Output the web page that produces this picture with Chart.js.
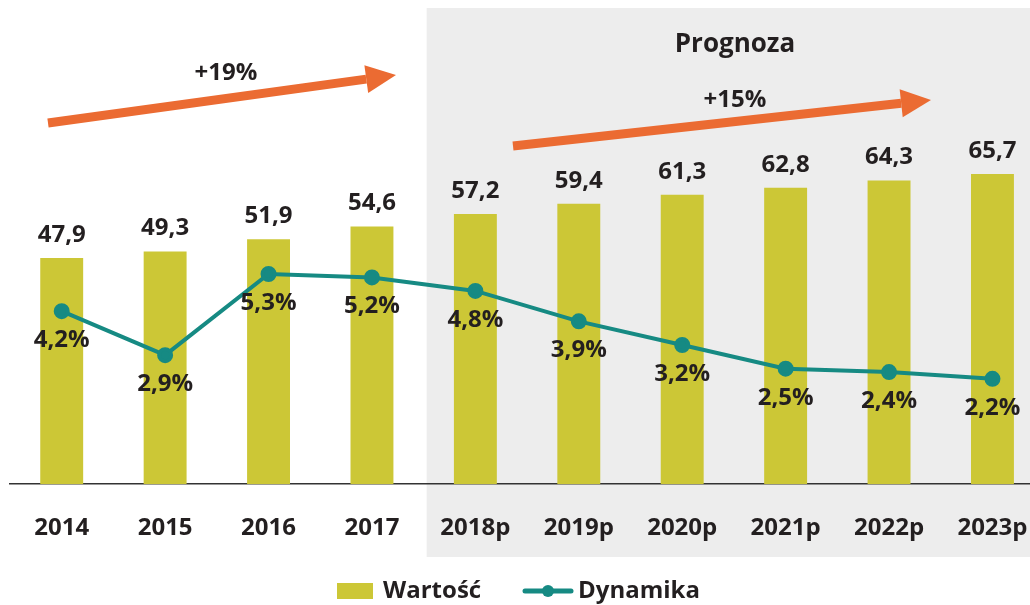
<!DOCTYPE html>
<html lang="pl">
<head>
<meta charset="UTF-8">
<title>Wartość i dynamika</title>
<script src="https://cdn.jsdelivr.net/npm/chart.js"></script>
<style>
  html, body { margin: 0; padding: 0; background: #fff; overflow: hidden; }
  #wrap { width: 1058px; height: 605px; }
</style>
</head>
<body>
<div id="wrap"><canvas id="chart" width="1058" height="605"></canvas></div>
<script>
// dane
const lata = ['2014', '2015', '2016', '2017', '2018p', '2019p', '2020p', '2021p', '2022p', '2023p'];
const wartosc = [47.9, 49.3, 51.9, 54.6, 57.2, 59.4, 61.3, 62.8, 64.3, 65.7];
const dynamika = [4.2, 2.9, 5.3, 5.2, 4.8, 3.9, 3.2, 2.5, 2.4, 2.2];
const prognozaOd = 4; // indeks pierwszego roku prognozy

const kolorSlupka = '#CCC736';
const kolorLinii = '#168A83';
const kolorStrzalki = '#EB6B32';
const kolorTekstu = '#231F20';
const font = '"Open Sans", "Noto Sans", sans-serif';

const fmt = v => v.toFixed(1).replace('.', ',');

function strzalka(ctx, x1, y1, x2, y2) {
  const ang = Math.atan2(y2 - y1, x2 - x1);
  const head = 30, half = 14;
  const bx = x2 - head * Math.cos(ang), by = y2 - head * Math.sin(ang);
  ctx.save();
  ctx.strokeStyle = kolorStrzalki; ctx.fillStyle = kolorStrzalki;
  ctx.lineWidth = 9; ctx.lineCap = 'butt';
  ctx.beginPath(); ctx.moveTo(x1, y1); ctx.lineTo(bx, by); ctx.stroke();
  ctx.beginPath();
  ctx.moveTo(x2, y2);
  ctx.lineTo(bx + half * Math.sin(ang), by - half * Math.cos(ang));
  ctx.lineTo(bx - half * Math.sin(ang), by + half * Math.cos(ang));
  ctx.closePath(); ctx.fill();
  ctx.restore();
}

const dodatki = {
  id: 'dodatki',
  beforeDraw(chart) {
    const { ctx } = chart;
    const x = chart.scales.x;
    const left = (x.getPixelForValue(prognozaOd - 1) + x.getPixelForValue(prognozaOd)) / 2 + 3;
    ctx.save();
    ctx.fillStyle = '#EDEDED';
    ctx.fillRect(left, 8, chart.width - left, 549);
    ctx.restore();
  },
  afterDatasetsDraw(chart) {
    const { ctx } = chart;
    ctx.save();
    ctx.fillStyle = kolorTekstu;
    ctx.textAlign = 'center';
    ctx.textBaseline = 'middle';
    ctx.font = 'bold 24px ' + font;
    // dataset 1 = słupki, dataset 0 = linia
    chart.getDatasetMeta(1).data.forEach((b, i) => {
      ctx.fillText(fmt(wartosc[i]), b.x, b.y - 23);
    });
    chart.getDatasetMeta(0).data.forEach((p, i) => {
      ctx.fillText(fmt(dynamika[i]) + '%', p.x, p.y + 29);
    });

    // strzałki i opisy
    strzalka(ctx, 48, 123, 396, 75);
    strzalka(ctx, 513, 146, 931, 100);
    ctx.fillStyle = kolorTekstu;
    ctx.font = 'bold 24px ' + font;
    ctx.fillText('+19%', 226, 73);
    ctx.fillText('+15%', 735, 100);
    ctx.font = 'bold 26px ' + font;
    ctx.fillText('Prognoza', 735, 45);

    // legenda
    ctx.fillStyle = kolorSlupka;
    ctx.fillRect(337, 583, 36, 16);
    ctx.strokeStyle = kolorLinii; ctx.lineWidth = 5; ctx.lineCap = 'round';
    ctx.beginPath(); ctx.moveTo(525, 591); ctx.lineTo(571, 591); ctx.stroke();
    ctx.fillStyle = kolorLinii;
    ctx.beginPath(); ctx.arc(548, 591, 6, 0, Math.PI * 2); ctx.fill();
    ctx.fillStyle = kolorTekstu;
    ctx.textAlign = 'left';
    ctx.font = 'bold 24px ' + font;
    ctx.fillText('Wartość', 383, 591);
    ctx.fillText('Dynamika', 578, 591);
    ctx.restore();
  }
};

new Chart(document.getElementById('chart'), {
  data: {
    labels: lata,
    datasets: [
      { type: 'line', label: 'Dynamika', data: dynamika, yAxisID: 'y2', order: 0,
        borderColor: kolorLinii, backgroundColor: kolorLinii, borderWidth: 4,
        pointRadius: 6, pointHoverRadius: 6, tension: 0 },
      { type: 'bar', label: 'Wartość', data: wartosc, yAxisID: 'y', order: 1,
        backgroundColor: kolorSlupka, categoryPercentage: 1, barPercentage: 0.415 }
    ]
  },
  options: {
    responsive: false,
    animation: false,
    layout: { padding: { left: 10, right: 0, top: 12, bottom: 32 } },
    plugins: { legend: { display: false }, tooltip: { enabled: false } },
    scales: {
      x: {
        grid: { display: false, drawTicks: false },
        border: { display: true, color: '#333', width: 1.5 },
        ticks: { color: kolorTekstu, padding: 30, font: { family: font, size: 24, weight: 'bold' } }
      },
      y: { display: false, min: 0, max: 100 },
      y2: { display: false, min: -0.917, max: 13.05 }
    }
  },
  plugins: [dodatki]
});
</script>
</body>
</html>
